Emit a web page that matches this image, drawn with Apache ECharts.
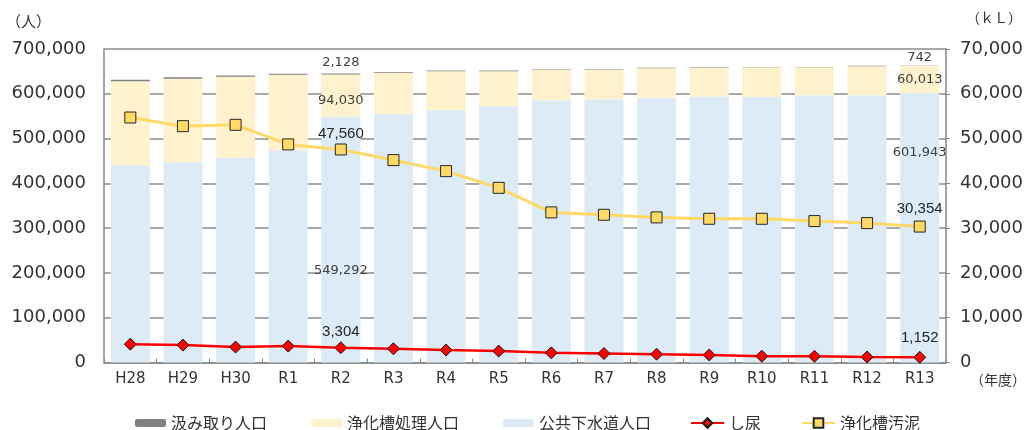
<!DOCTYPE html>
<html>
<head>
<meta charset="utf-8">
<script src="https://cdn.jsdelivr.net/npm/echarts@6/dist/echarts.min.js"></script>
<style>
html,body{margin:0;padding:0;background:#fff;}
#chart{width:1026px;height:430px;}
</style>
</head>
<body>
<div id="chart"></div>
<script>
const categories = ['H28','H29','H30','R1','R2','R3','R4','R5','R6','R7','R8','R9','R10','R11','R12','R13'];
// population (persons)
const vaultPop  = [3500,3200,3000,2600,2128,1900,1700,1500,1400,1300,1200,1100,1000,900,800,742];
const septicPop = [187300,186900,180100,168400,94030,91700,87300,78500,67900,65700,65800,64900,66000,62100,64700,60013];
const sewerPop  = [440700,446900,457900,474000,549292,555000,563000,572000,585700,588000,591000,594000,593000,597000,597000,601943];
// volumes (kL)
const nightSoil     = [4100,3880,3440,3660,3304,3070,2780,2550,2150,2000,1850,1680,1400,1380,1230,1152];
const septicSludge  = [54700,52770,53070,48700,47560,45190,42730,39000,33520,32980,32400,32090,32090,31580,31130,30354];
const leftTicks = [0,100000,200000,300000,400000,500000,600000,700000];
const rightTicks = [0,10000,20000,30000,40000,50000,60000,70000];

const iR2 = categories.indexOf('R2'), iR13 = categories.indexOf('R13');
const fmt = v => v.toLocaleString('en-US');

function withLabels(arr, cfg) {
  return arr.map((v, i) => cfg[i] ? { value: v, label: Object.assign({ show: true, formatter: fmt(v) }, cfg[i]) } : v);
}
const barLbl = { color: '#404040', fontSize: 13, fontFamily: 'DejaVu Sans' };
const lineLbl = { color: '#262626', fontSize: 15, fontFamily: 'Liberation Sans', position: 'top' };

const chart = echarts.init(document.getElementById('chart'));
chart.setOption({
  animation: false,
  backgroundColor: '#ffffff',
  grid: { left: 104, right: 78, top: 49, bottom: 67.5 },
  legend: [
    {
      left: 130, top: 410, itemWidth: 31, itemHeight: 8, itemGap: 44,
      textStyle: { fontSize: 16, color: '#333', fontFamily: 'Noto Sans CJK JP' },
      data: ['汲み取り人口', '浄化槽処理人口', '公共下水道人口']
    },
    {
      left: 685, top: 410, itemWidth: 33, itemHeight: 12, itemGap: 40,
      textStyle: { fontSize: 16, color: '#333', fontFamily: 'Noto Sans CJK JP' },
      data: ['し尿', '浄化槽汚泥']
    }
  ],
  graphic: [
    { type: 'text', left: 6, top: 14, style: { text: '（人）', font: '15px "Noto Sans CJK JP"', fill: '#333' } },
    { type: 'text', left: 966, top: 11, style: { text: '（ｋＬ）', font: '14px "Noto Sans CJK JP"', fill: '#333' } },
    { type: 'text', left: 970, top: 373, style: { text: '（年度）', font: '14px "Noto Sans CJK JP"', fill: '#333' } }
  ],
  xAxis: {
    type: 'category', data: categories,
    axisLine: { lineStyle: { color: '#868686', width: 1.5 } },
    axisTick: { show: true, inside: true, length: 4, lineStyle: { color: '#868686' } },
    axisLabel: { color: '#333', fontSize: 15, fontFamily: 'DejaVu Sans', margin: 9 }
  },
  yAxis: [
    {
      type: 'value', min: leftTicks[0], max: leftTicks[leftTicks.length - 1], interval: leftTicks[1] - leftTicks[0],
      axisLine: { show: true, lineStyle: { color: '#868686', width: 1.5 } },
      axisTick: { show: false },
      splitLine: { lineStyle: { color: '#8c8c8c', width: 1.5 } },
      axisLabel: { color: '#333', fontSize: 18, fontFamily: 'DejaVu Sans', margin: 18, formatter: v => fmt(v) }
    },
    {
      type: 'value', min: rightTicks[0], max: rightTicks[rightTicks.length - 1], interval: rightTicks[1] - rightTicks[0],
      axisLine: { show: true, lineStyle: { color: '#868686', width: 1.5 } },
      axisTick: { show: true, length: 4, lineStyle: { color: '#868686' } },
      splitLine: { show: false },
      axisLabel: { color: '#333', fontSize: 18, fontFamily: 'DejaVu Sans', margin: 14, formatter: v => fmt(v) }
    }
  ],
  series: [
    {
      name: '公共下水道人口', type: 'bar', stack: 'pop', barWidth: 39,
      itemStyle: { color: '#DDEBF7' },
      data: withLabels(sewerPop, {
        [iR2]: Object.assign({ position: 'insideTop', offset: [0, 143] }, barLbl),
        [iR13]: Object.assign({ position: 'insideTop', offset: [0, 48] }, barLbl)
      })
    },
    {
      name: '浄化槽処理人口', type: 'bar', stack: 'pop', barWidth: 39,
      itemStyle: { color: '#FFF2CC' },
      data: withLabels(septicPop, {
        [iR2]: Object.assign({ position: 'insideTop', offset: [0, 15] }, barLbl),
        [iR13]: Object.assign({ position: 'insideTop', offset: [0, 2.5] }, barLbl)
      })
    },
    {
      name: '汲み取り人口', type: 'bar', stack: 'pop', barWidth: 39,
      itemStyle: { color: '#808080' },
      data: withLabels(vaultPop, {
        [iR2]: Object.assign({ position: 'top', offset: [0, 1] }, barLbl),
        [iR13]: Object.assign({ position: 'top', offset: [0, 3] }, barLbl)
      })
    },
    {
      name: 'し尿', type: 'line', yAxisIndex: 1, z: 5,
      symbol: 'diamond', symbolSize: 12,
      lineStyle: { color: '#FF0000', width: 2.5 },
      itemStyle: { color: '#FF0000', borderColor: '#1a1a1a', borderWidth: 1 },
      data: withLabels(nightSoil, {
        [iR2]: Object.assign({ offset: [0, 3] }, lineLbl),
        [iR13]: Object.assign({ offset: [0, 0] }, lineLbl)
      })
    },
    {
      name: '浄化槽汚泥', type: 'line', yAxisIndex: 1, z: 5,
      symbol: 'rect', symbolSize: 11,
      lineStyle: { color: '#FFD966', width: 3 },
      itemStyle: { color: '#FFD966', borderColor: '#262626', borderWidth: 1 },
      data: withLabels(septicSludge, {
        [iR2]: Object.assign({ offset: [0, 3] }, lineLbl),
        [iR13]: Object.assign({ offset: [0, 1] }, lineLbl)
      })
    }
  ]
});
</script>
</body>
</html>
